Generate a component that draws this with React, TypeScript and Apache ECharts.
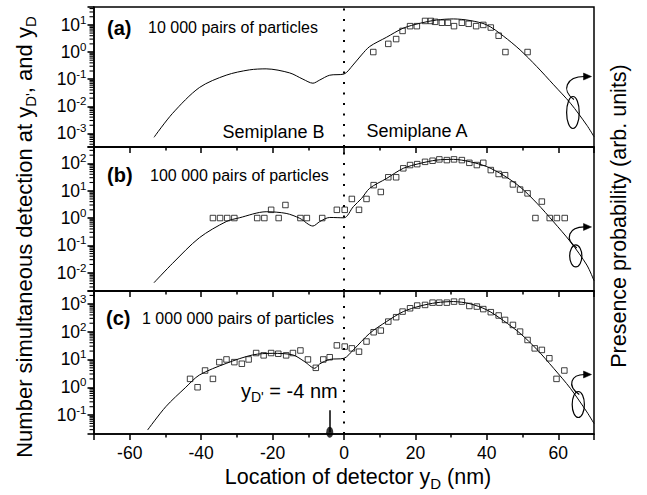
import { useEffect, useRef } from 'react';
import * as echarts from 'echarts';

const FONT = "'Liberation Sans', Arial, Helvetica, sans-serif";

// ---- texts ----
const panelTags = ['(a)', '(b)', '(c)'];
const panelCaptions = ['10 000 pairs of particles', '100 000 pairs of particles', '1 000 000 pairs of particles'];
const semiplaneLabels = ['Semiplane B', 'Semiplane A'];
const yTitle = "Number simultaneous detection at y{sub|D'}, and y{sub|D}";
const y2Title = 'Presence probability (arb. units)';
const xTitle = 'Location of detector y{sub|D} (nm)';
const markerText = "y{sub|D'} = -4 nm";

// ---- axis extents ----
const xMin = -70;
const xMax = 70;
const yMinExp = [-3.5, -2.67, -1.68];
const yMaxExp = [1.66, 2.6, 3.46];
const minorMultipliers = [2, 3, 4, 5, 6, 7, 8, 9];

// ---- theory curves (nm, arb. units) ----
const curveXA = [-53.2, -48, -40.5, -33, -26.5, -21.8, -15.2, -11.5, -8.7, -6.8, -4, 0, 2.5, 4.9, 7.2, 11.9, 16.6, 21.3, 25.9, 30.6, 35.3, 40, 44.6, 49.3, 54, 58.7, 63.4, 68, 70];
const curveYA = [7.2e-4, 5.5e-3, 0.049, 0.14, 0.22, 0.24, 0.17, 0.1, 0.071, 0.093, 0.14, 0.155, 0.33, 0.78, 1.6, 3.5, 7.6, 11.5, 15.1, 16.6, 14.5, 10, 3.9, 1.2, 0.29, 0.062, 0.013, 0.002, 7.6e-4];

const curveXB = [-53.2, -48, -40.5, -33, -29.3, -21.8, -16.2, -12.4, -8.7, -6.8, -4, 0, 2.6, 4.9, 7.2, 11.9, 16.6, 21.3, 25.9, 30.6, 35.3, 40, 44.6, 49.3, 54, 58.7, 63.4, 68, 70];
const curveYB = [4.3e-3, 0.022, 0.19, 0.74, 1.02, 1.7, 1.48, 0.98, 0.51, 0.74, 1.05, 1.02, 2.6, 5.2, 12.3, 28, 66, 100, 132, 141, 115, 76, 37, 13.8, 3.5, 0.72, 0.135, 0.019, 5.1e-3];

const curveXC = [-55, -49.9, -44.3, -40.5, -33, -25.6, -19.9, -14.3, -11, -8.2, -6.8, -4, 0, 2.6, 7.2, 11.9, 16.6, 21.3, 25.9, 30.6, 35.3, 40, 44.6, 49.3, 54, 58.7, 63.4, 68, 70];
const curveYC = [0.029, 0.2, 1.0, 2.75, 7.2, 14.5, 16.6, 14.5, 8.3, 4.8, 6.9, 10, 11, 22, 87, 229, 525, 832, 1096, 1202, 1000, 603, 251, 87, 23, 4.8, 0.91, 0.13, 0.05];

// ---- simulated detections (squares) ----
const squaresXA = [8.2, 12.4, 14.6, 16.4, 18.5, 20.4, 22.7, 24.3, 25.5, 27.4, 29.1, 30.8, 33, 34.9, 37, 39, 41.1, 43.3, 45.2, 51.4];
const squaresYA = [1, 2, 3, 6, 9, 9, 14, 14, 13, 12, 12, 9, 12, 11, 9, 10, 8, 4, 1, 1];

const squaresXB = [-36.7, -34.7, -32.7, -30.7, -24.3, -22.3, -20.4, -18.3, -16.4, -12.2, -10.4, -6.1, -2, 0.2, 2.2, 4.2, 6.3, 8.3, 10.3, 12.4, 14.6, 16.6, 18.5, 20.5, 22.7, 24.8, 26.7, 28.8, 30.8, 33, 35.1, 37.2, 39, 41.1, 43.3, 45.1, 47.3, 49.3, 51.4, 53.6, 55.4, 57.6, 59.6, 61.8];
const squaresYB = [1, 1, 1, 1, 1, 1, 2, 1, 3, 1, 1, 1, 2, 2, 5, 2, 5, 16, 9, 31, 31, 66, 87, 94, 114, 125, 140, 132, 140, 132, 105, 87, 105, 57, 41, 37, 17, 11, 8, 1, 4, 1, 1, 1];

const squaresXC = [-43.1, -41, -38.9, -36.7, -34.9, -32.9, -30.7, -28.6, -26.7, -24.6, -22.5, -20.4, -18.4, -16.2, -14.3, -12.2, -10.1, -7.9, -5.8, -4, -2, 0.2, 2.2, 4.2, 6.3, 8.3, 10.3, 12.4, 14.6, 16.4, 18.5, 20.5, 22.7, 24.8, 26.7, 28.8, 30.8, 33, 35.1, 37.2, 39, 41.1, 43.3, 45.1, 47.3, 49.3, 51.4, 53.4, 55.4, 57.5, 59.5, 61.7];
const squaresYC = [2, 1, 4, 2, 8, 10, 8, 7, 10, 17, 14, 17, 16, 14, 17, 21, 10, 5, 10, 12, 32, 29, 25, 19, 44, 95, 109, 229, 330, 525, 690, 865, 910, 1100, 1100, 1100, 1200, 1200, 835, 795, 645, 500, 380, 263, 174, 100, 50, 25, 22, 11, 2, 4];

// ---- annotation anchors (data units) ----
const markerX = -4;
const markerY = 0.024;
const markerArrowTop = 0.15;
const loopX = [64.1, 64.9, 65.6];
const loopY = [5.9e-3, 0.041, 0.24];

// ---- layout ----
const gridTops = [7, 147, 291];
const gridHeights = [140, 144, 143];
const gridLeft = 94;
const gridWidth = 500;
const loopRx = [6.3, 6.1, 6.1];
const loopRy = [16, 11, 13];
const loopRise = [36, 29, 30];

const curvesX = [curveXA, curveXB, curveXC];
const curvesY = [curveYA, curveYB, curveYC];
const squaresX = [squaresXA, squaresXB, squaresXC];
const squaresY = [squaresYA, squaresYB, squaresYC];

function pairs(xs: number[], ys: number[]) {
  return xs.map((x, i) => [x, ys[i]]);
}

function yLabel(v: number) {
  const e = Math.log10(v);
  const r = Math.round(e);
  if (Math.abs(e - r) > 1e-6) return '';
  return '10{s|' + r + '}';
}

// minor tick values of a log axis (2..9 x 10^n inside the axis extent)
function minorTickValues(i: number) {
  const out: number[] = [];
  for (let n = Math.floor(yMinExp[i]); n <= Math.ceil(yMaxExp[i]); n++) {
    for (const k of minorMultipliers) {
      const v = k * Math.pow(10, n);
      const e = Math.log10(v);
      if (e > yMinExp[i] + 0.01 && e < yMaxExp[i] - 0.01) out.push(v);
    }
  }
  return out;
}

function buildOption() {
  const grid: any[] = [];
  const xAxis: any[] = [];
  const yAxis: any[] = [];
  const series: any[] = [];
  const black = '#000';
  for (let i = 0; i < 3; i++) {
    grid.push({
      left: gridLeft, width: gridWidth, top: gridTops[i], height: gridHeights[i],
      show: true, borderColor: black, borderWidth: 1.5, backgroundColor: 'transparent',
      containLabel: false, outerBoundsMode: 'none',
    });
    xAxis.push({
      type: 'value', gridIndex: i, min: xMin, max: xMax, splitNumber: 7,
      axisLine: { show: true, onZero: false, lineStyle: { color: black, width: 1.5 } },
      axisTick: { show: true, inside: false, length: 6, lineStyle: { color: black, width: 1.5 } },
      minorTick: { show: true, splitNumber: 2, length: 3.5, lineStyle: { color: black, width: 1.5 } },
      splitLine: { show: false },
      axisLabel: {
        show: i === 2, fontSize: 17.5, color: black, fontFamily: FONT, margin: 10,
        formatter: (v: number) => (Math.abs(v) >= 70 ? '' : String(v)),
      },
    });
    yAxis.push({
      type: 'log', logBase: 10, gridIndex: i,
      min: Math.pow(10, yMinExp[i]), max: Math.pow(10, yMaxExp[i]),
      axisLine: { show: true, onZero: false, lineStyle: { color: black, width: 1.5 } },
      axisTick: { show: true, inside: false, length: 6.5, lineStyle: { color: black, width: 1.6 } },
      minorTick: { show: false },
      splitLine: { show: false },
      axisLabel: {
        fontSize: 17.5, color: black, fontFamily: FONT, margin: 7.5, formatter: yLabel,
        rich: { s: { fontSize: 11.5, color: black, fontFamily: FONT, padding: [0, 0, 10, 0] } },
      },
    });
    series.push({
      type: 'line', xAxisIndex: i, yAxisIndex: i,
      data: pairs(curvesX[i], curvesY[i]),
      showSymbol: false, symbol: 'none', smooth: 0.3, silent: true,
      lineStyle: { color: black, width: 1 }, z: 2,
      markLine: {
        silent: true, symbol: ['none', 'none'], label: { show: false },
        lineStyle: { color: black, type: [2, 8.5], width: 2 },
        data: [{ xAxis: 0 }],
      },
    });
    series.push({
      type: 'scatter', xAxisIndex: i, yAxisIndex: i,
      data: pairs(squaresX[i], squaresY[i]),
      symbol: 'rect', symbolSize: 5.5, silent: true,
      itemStyle: { color: 'rgba(255,255,255,0)', borderColor: '#111', borderWidth: 1 }, z: 3,
    });
  }
  series.push({
    type: 'scatter', xAxisIndex: 2, yAxisIndex: 2,
    data: [[markerX, markerY]], symbol: 'circle', symbolSize: [7, 11], silent: true,
    itemStyle: { color: black }, clip: false, z: 4,
    markLine: {
      silent: true, symbol: ['none', 'arrow'], symbolSize: [0, 8], label: { show: false },
      lineStyle: { color: black, type: 'solid', width: 1.5 },
      data: [[{ coord: [markerX, markerY] }, { coord: [markerX, markerArrowTop] }]],
    },
  });
  return { animation: false, grid, xAxis, yAxis, series };
}

function txt(text: string, x: number, y: number, fontSize: number, extra: any = {}) {
  return {
    type: 'text', x, y, z: 10, silent: true,
    rotation: extra.rotation || 0,
    style: {
      text, fontSize, fontFamily: FONT, fontWeight: extra.bold ? 'bold' : 'normal', fill: '#000',
      align: extra.align || 'left', verticalAlign: 'middle',
      rich: {
        sub: { fontSize: Math.round(fontSize * 0.68), fontFamily: FONT, fill: '#000', padding: [Math.round(fontSize * 0.55), 0, 0, 0] },
      },
    },
  };
}

function buildGraphics(chart: any) {
  const g: any[] = [];
  const tagPos = [[107, 27.5], [107, 175], [106, 318]];
  const capPos = [[148, 27.5], [150, 175], [142, 318]];
  for (let i = 0; i < 3; i++) {
    g.push(txt(panelTags[i], tagPos[i][0], tagPos[i][1], 20, { bold: true }));
    g.push(txt(panelCaptions[i], capPos[i][0], capPos[i][1], 16));
  }
  g.push(txt(semiplaneLabels[0], 222.5, 131.5, 18));
  g.push(txt(semiplaneLabels[1], 366.5, 130.5, 18));
  g.push(txt(markerText, 241, 391, 20));
  g.push(txt(yTitle, 24, 237, 22, { rotation: Math.PI / 2, align: 'center' }));
  g.push(txt(y2Title, 619, 216, 21.5, { rotation: Math.PI / 2, align: 'center' }));
  g.push(txt(xTitle, 358, 477, 21.5, { align: 'center' }));

  for (let i = 0; i < 3; i++) {
    // log-axis minor ticks, placed through the axis conversion
    for (const v of minorTickValues(i)) {
      const p = chart.convertToPixel({ xAxisIndex: i, yAxisIndex: i }, [xMin, v]);
      g.push({
        type: 'line', z: 12, silent: true,
        shape: { x1: p[0] - 4.5, y1: p[1], x2: p[0] - 0.5, y2: p[1] },
        style: { stroke: '#000', lineWidth: 1.1 },
      });
    }

    const c = chart.convertToPixel({ xAxisIndex: i, yAxisIndex: i }, [loopX[i], loopY[i]]);
    const edge = chart.convertToPixel({ xAxisIndex: i, yAxisIndex: i }, [xMax, loopY[i]]);
    const cx = c[0];
    const cy = c[1];
    const rx = loopRx[i];
    const ry = loopRy[i];
    const ty = cy - loopRise[i];
    const tipX = edge[0] - 2.5;
    const stroke = { fill: 'none', stroke: '#000', lineWidth: 1.2 };
    g.push({ type: 'ellipse', z: 10, silent: true, shape: { cx, cy, rx, ry }, style: stroke });
    g.push({
      type: 'bezierCurve', z: 10, silent: true,
      shape: { x1: cx + 1, y1: cy - ry + 3, cpx1: cx - 12, cpy1: cy - ry - 6, cpx2: cx - 7, cpy2: ty, x2: tipX - 7, y2: ty },
      style: stroke,
    });
    g.push({
      type: 'polygon', z: 10, silent: true,
      shape: { points: [[tipX, ty], [tipX - 8, ty - 3.5], [tipX - 8, ty + 3.5]] },
      style: { fill: '#000', stroke: '#000', lineWidth: 0.5 },
    });
  }
  return g;
}

export default function App() {
  const ref = useRef<HTMLDivElement>(null);
  useEffect(() => {
    const el = ref.current;
    if (!el) return;
    const chart = echarts.init(el, undefined, { renderer: 'svg' });
    chart.setOption(buildOption());
    chart.setOption({ graphic: buildGraphics(chart) });
    return () => chart.dispose();
  }, []);
  return (
    <div
      ref={ref}
      style={{ position: 'absolute', left: 0, top: 0, width: 647, height: 495, background: '#fff' }}
    />
  );
}
